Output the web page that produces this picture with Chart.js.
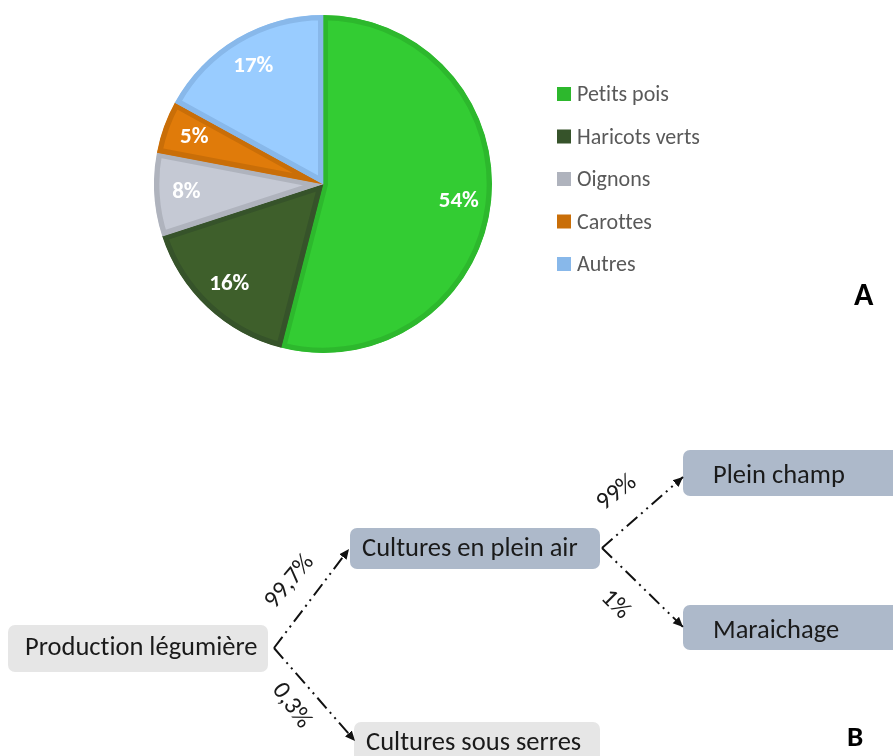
<!DOCTYPE html>
<html lang="fr">
<head>
<meta charset="utf-8">
<script src="https://cdn.jsdelivr.net/npm/chart.js@4.4.1/dist/chart.umd.min.js"></script>
<style>
  html, body { margin: 0; padding: 0; background: #fff; }
  #page { position: relative; width: 893px; height: 756px; overflow: hidden; font-family: Carlito, Lato, sans-serif; }
  #pieBox { position: absolute; left: 154px; top: 15px; width: 338px; height: 338px; }
  #overlay { position: absolute; left: 0; top: 0; }
  #overlay text { font-variant-ligatures: none; font-feature-settings: "liga" 0; }
</style>
</head>
<body>
<div id="page">
  <div id="pieBox"><canvas id="pie"></canvas></div>
  <svg id="overlay" width="893" height="756" xmlns="http://www.w3.org/2000/svg"></svg>
</div>
<script>
// vegetable production breakdown (%)
const categories = ['Petits pois', 'Haricots verts', 'Oignons', 'Carottes', 'Autres'];
const shares = [54, 16, 8, 5, 17];
const fillColors = ['#33CC33', '#3E5F2B', '#C5C9D4', '#E07B0A', '#99CCFF'];
const edgeColors = ['#2DB82D', '#36532A', '#AFB3BD', '#C96E08', '#88B8EA'];

// production channels and their shares (%)
const nodeNames = ['Production légumière', 'Cultures en plein air', 'Cultures sous serres', 'Plein champ', 'Maraichage'];
const flowFrom = [0, 0, 1, 1];
const flowTo = [1, 2, 3, 4];
const flowShares = [99.7, 0.3, 99, 1];

const FONT = 'Carlito, Lato, sans-serif';

// percentage labels sitting inside each slice
const sliceLabels = {
  id: 'sliceLabels',
  afterDatasetsDraw(chart) {
    const ctx = chart.ctx;
    const meta = chart.getDatasetMeta(0);
    ctx.save();
    ctx.font = 'bold 23px ' + FONT;
    ctx.fillStyle = '#ffffff';
    ctx.textAlign = 'center';
    ctx.textBaseline = 'middle';
    meta.data.forEach((arc, i) => {
      const p = arc.getProps(['x', 'y', 'startAngle', 'endAngle', 'outerRadius'], true);
      const a = (p.startAngle + p.endAngle) / 2;
      const r = p.outerRadius * 0.81;
      ctx.fillText(shares[i] + '%', p.x + Math.cos(a) * r, p.y + Math.sin(a) * r);
    });
    ctx.restore();
  }
};

new Chart(document.getElementById('pie'), {
  type: 'pie',
  data: {
    labels: categories,
    datasets: [{
      data: shares,
      backgroundColor: fillColors,
      borderColor: edgeColors,
      borderWidth: 5,
      borderAlign: 'inner'
    }]
  },
  options: {
    responsive: true,
    maintainAspectRatio: false,
    animation: false,
    layout: { padding: 0 },
    plugins: {
      legend: { display: false },
      tooltip: { enabled: false }
    }
  },
  plugins: [sliceLabels]
});

// ---- legend, panel letters and the flow diagram (SVG) ----
const svg = document.getElementById('overlay');
const NS = 'http://www.w3.org/2000/svg';
function el(tag, attrs, text) {
  const e = document.createElementNS(NS, tag);
  for (const k in attrs) e.setAttribute(k, attrs[k]);
  if (text !== undefined) e.textContent = text;
  svg.appendChild(e);
  return e;
}

const defs = el('defs', {});
const marker = document.createElementNS(NS, 'marker');
marker.setAttribute('id', 'head');
marker.setAttribute('markerUnits', 'userSpaceOnUse');
marker.setAttribute('markerWidth', '11');
marker.setAttribute('markerHeight', '11');
marker.setAttribute('refX', '10');
marker.setAttribute('refY', '5.5');
marker.setAttribute('orient', 'auto');
const tri = document.createElementNS(NS, 'path');
tri.setAttribute('d', 'M0,1 L10,5.5 L0,10 Z');
tri.setAttribute('fill', '#111');
marker.appendChild(tri);
defs.appendChild(marker);

// legend
const legendX = 557, legendTop = 94, legendStep = 42.5;
categories.forEach((name, i) => {
  const cy = legendTop + i * legendStep;
  el('rect', { x: legendX, y: cy - 7, width: 14, height: 14, fill: edgeColors[i] });
  el('text', { x: legendX + 20, y: cy + 7, 'font-family': FONT, 'font-size': 22, fill: '#595959' }, name);
});

el('text', { x: 854, y: 305, 'font-family': FONT, 'font-size': 32, 'font-weight': 'bold', fill: '#000' }, 'A');
el('text', { x: 847, y: 746, 'font-family': FONT, 'font-size': 29, 'font-weight': 'bold', fill: '#000' }, 'B');

// diagram layout
const boxes = [
  { x: 8, y: 625, w: 260, h: 47, fill: '#E6E6E6', tx: 25, ty: 655 },
  { x: 350, y: 528, w: 250, h: 41, fill: '#ADB9CA', tx: 362, ty: 556 },
  { x: 354, y: 722, w: 246, h: 50, fill: '#E6E6E6', tx: 366, ty: 750 },
  { x: 683, y: 450, w: 230, h: 46, fill: '#ADB9CA', tx: 713, ty: 483 },
  { x: 683, y: 605, w: 230, h: 45, fill: '#ADB9CA', tx: 713, ty: 638 }
];
const forks = [[274, 648], [602, 548]];
const tips = [[349, 549], [355, 741], [683, 477], [683, 627]];
const tagPos = [[290, 582, -50], [291, 706, 54], [617, 493, -38], [615, 605, 45]];

boxes.forEach((b, i) => {
  el('rect', { x: b.x, y: b.y, width: b.w, height: b.h, rx: 7, ry: 7, fill: b.fill });
  el('text', { x: b.tx, y: b.ty, 'font-family': FONT, 'font-size': 26.5, fill: '#1A1A1A' }, nodeNames[i]);
});

flowShares.forEach((v, i) => {
  const f = forks[flowFrom[i]];
  const t = tips[i];
  el('line', {
    x1: f[0], y1: f[1], x2: t[0], y2: t[1],
    stroke: '#111', 'stroke-width': 2,
    'stroke-dasharray': '14 5 2 5 2 5',
    'marker-end': 'url(#head)'
  });
  const [lx, ly, rot] = tagPos[i];
  el('text', {
    x: lx, y: ly, 'font-family': FONT, 'font-size': 25, fill: '#1A1A1A',
    'text-anchor': 'middle', 'dominant-baseline': 'middle',
    transform: `rotate(${rot} ${lx} ${ly})`
  }, String(v).replace('.', ',') + '%');
});
</script>
</body>
</html>
